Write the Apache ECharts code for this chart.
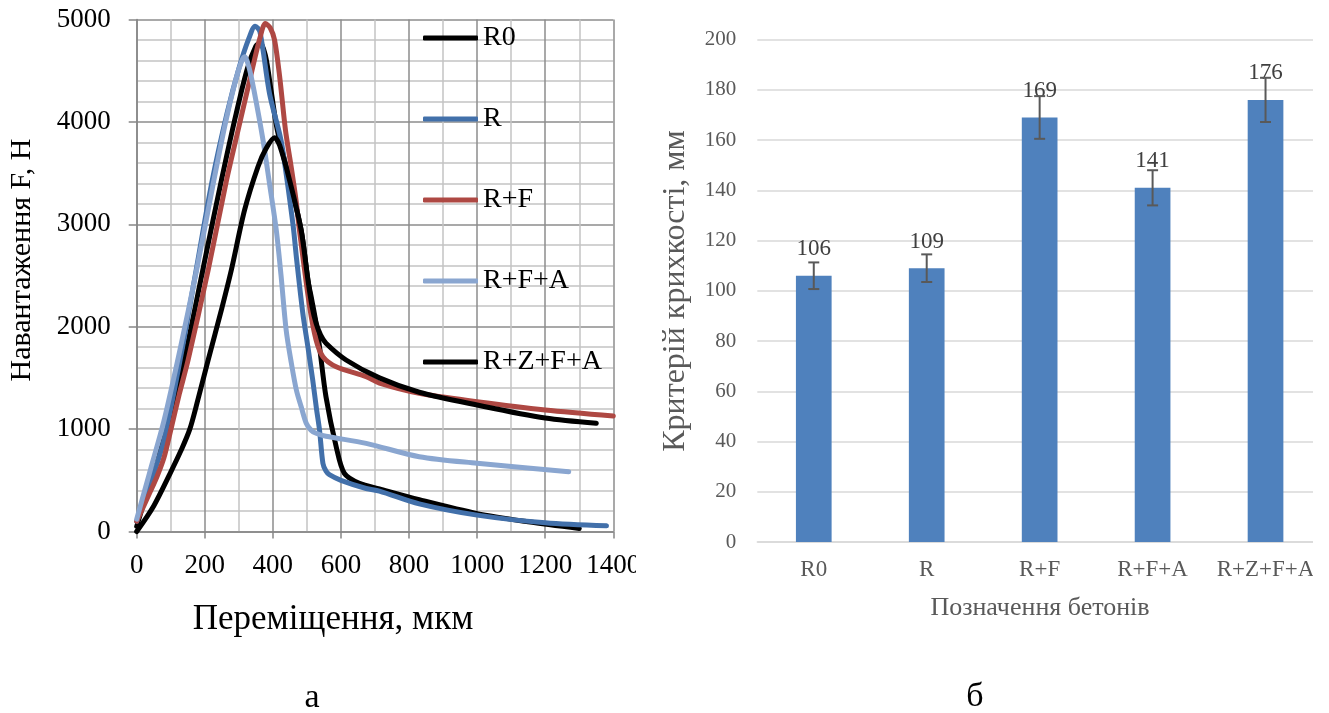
<!DOCTYPE html>
<html>
<head>
<meta charset="utf-8">
<script src="https://cdn.jsdelivr.net/npm/echarts@6/dist/echarts.min.js"></script>
<style>
  html, body { margin: 0; padding: 0; background: #fff; }
  #a { position: absolute; left: 0; top: 0; width: 636px; height: 713px; }
  #bwrap { position: absolute; left: 636px; top: 0; width: 677px; height: 713px; overflow: hidden; }
  #b { position: absolute; left: 0; top: 0; width: 700px; height: 713px; }
</style>
</head>
<body>
<div id="a"></div>
<div id="bwrap"><div id="b"></div></div>
<script>
// ---------- Chart (a): load–displacement curves ----------
const seriesNames = ['R0', 'R', 'R+F', 'R+F+A', 'R+Z+F+A'];
const seriesColors = ['#000000', '#4270aa', '#ae4843', '#8aa6d0', '#000000'];

const curveR0 = [[0,50],[50,600],[100,1120],[146,1772],[200,2650],[249,3432],[290,4050],[325,4520],[350,4740],[362,4770],[378,4650],[395,4300],[413,3920],[449,3432],[483,2944],[503,2456],[515,2250],[527,2033],[537,1805],[556,1316],[586,828],[610,568],[654,470],[713,415],[830,310],[1000,175],[1150,95],[1300,30]];
const curveR = [[0,100],[40,470],[80,890],[130,1720],[175,2560],[222,3430],[265,4080],[300,4520],[330,4820],[348,4935],[362,4880],[390,4280],[420,3880],[429,3725],[459,3000],[470,2650],[488,2130],[503,1800],[517,1480],[528,1200],[537,992],[547,666],[556,590],[566,555],[600,500],[674,420],[713,395],[830,270],[1000,160],[1200,85],[1380,55]];
const curveRF = [[0,100],[40,390],[60,540],[80,720],[100,990],[125,1340],[151,1675],[210,2554],[264,3432],[300,3950],[335,4450],[362,4820],[378,4960],[392,4920],[405,4800],[420,4440],[437,3920],[452,3600],[468,3237],[478,2944],[508,2195],[527,1870],[547,1707],[586,1609],[674,1512],[713,1450],[830,1350],[1000,1268],[1200,1187],[1400,1128]];
const curveRFA = [[0,120],[40,600],[80,1080],[127,1772],[176,2554],[222,3350],[260,3980],[290,4400],[308,4590],[317,4637],[330,4530],[345,4300],[371,3823],[390,3400],[410,2944],[424,2500],[439,1968],[454,1650],[469,1382],[483,1220],[498,1057],[512,990],[527,959],[556,930],[674,861],[830,730],[1000,666],[1269,584]];
const curveRZFA = [[0,0],[50,250],[100,580],[130,790],[156,1000],[180,1290],[210,1675],[250,2180],[278,2554],[317,3140],[356,3560],[380,3740],[405,3845],[420,3770],[449,3432],[483,2944],[503,2456],[515,2200],[527,2033],[540,1920],[556,1838],[615,1675],[713,1500],[830,1360],[1000,1235],[1200,1108],[1350,1057]];
const curves = [curveR0, curveR, curveRF, curveRFA, curveRZFA];

// ---------- Chart (b): brittleness criterion ----------
const categories = ['R0', 'R', 'R+F', 'R+F+A', 'R+Z+F+A'];
const barValues = [106, 109, 169, 141, 176];
const barErrors = [5.3, 5.5, 8.5, 7.0, 8.8];

const SERIF = "'Liberation Serif', 'Times New Roman', serif";
const plain = v => String(v);

const chartA = echarts.init(document.getElementById('a'), null, { renderer: 'canvas' });
chartA.setOption({
  animation: false,
  backgroundColor: '#fff',
  grid: { left: 136.7, right: 22.7, top: 19.5, bottom: 181.5, containLabel: false, outerBoundsMode: 'none' },
  legend: {
    orient: 'vertical',
    left: 418, top: 19,
    icon: 'roundRect',
    itemWidth: 55, itemHeight: 5, itemGap: 53,
    textStyle: { fontFamily: SERIF, fontSize: 28, color: '#000', lineHeight: 28 },
    data: seriesNames
  },
  xAxis: {
    type: 'value', min: 0, max: 1400, interval: 200,
    axisLine: { show: true, onZero: false, lineStyle: { color: '#868686', width: 1.5 } },
    axisTick: { show: true, length: 7, lineStyle: { color: '#868686', width: 1.5 } },
    axisLabel: { margin: 21, fontFamily: SERIF, fontSize: 27, color: '#000', hideOverlap: false, formatter: plain },
    splitLine: { show: true, lineStyle: { color: '#8c8c8c', width: 1.5 } },
    minorTick: { show: false, splitNumber: 2 },
    minorSplitLine: { show: true, lineStyle: { color: '#c4c4c4', width: 1.5 } }
  },
  yAxis: {
    type: 'value', min: 0, max: 5000, interval: 1000,
    axisLine: { show: true, onZero: false, lineStyle: { color: '#868686', width: 1.5 } },
    axisTick: { show: true, length: 8, lineStyle: { color: '#868686', width: 1.5 } },
    axisLabel: { margin: 26, fontFamily: SERIF, fontSize: 27, color: '#000', formatter: plain },
    splitLine: { show: true, lineStyle: { color: '#8c8c8c', width: 1.5 } },
    minorTick: { show: false, splitNumber: 5 },
    minorSplitLine: { show: true, lineStyle: { color: '#c4c4c4', width: 1.5 } }
  },
  series: seriesNames.map((name, i) => ({
    name: name,
    type: 'line',
    data: curves[i],
    showSymbol: false,
    symbol: 'none',
    smooth: 0.3,
    clip: false,
    lineStyle: { color: seriesColors[i], width: 5, cap: 'round', join: 'round' },
    itemStyle: { color: seriesColors[i] }
  })),
  graphic: [
    { type: 'text', x: 333, y: 620, style: { text: 'Переміщення, мкм', font: '35px ' + SERIF, fill: '#000', align: 'center', verticalAlign: 'middle', textAlign: 'center', textVerticalAlign: 'middle' } },
    { type: 'text', x: 22, y: 260, rotation: Math.PI / 2, style: { text: 'Навантаження F, Н', font: '30px ' + SERIF, fill: '#000', align: 'center', verticalAlign: 'middle', textAlign: 'center', textVerticalAlign: 'middle' } },
    { type: 'text', x: 312, y: 698, style: { text: 'а', font: '34px ' + SERIF, fill: '#000', align: 'center', verticalAlign: 'middle', textAlign: 'center', textVerticalAlign: 'middle' } }
  ]
});

const chartB = echarts.init(document.getElementById('b'), null, { renderer: 'canvas' });
chartB.setOption({
  animation: false,
  backgroundColor: '#fff',
  grid: { left: 121.3, right: 14, top: 39.6, bottom: 171, containLabel: false, outerBoundsMode: 'none' },
  xAxis: {
    type: 'category', data: categories,
    axisLine: { show: true, lineStyle: { color: '#d9d9d9', width: 1.5 } },
    axisTick: { show: false },
    axisLabel: { interval: 0, margin: 16, fontFamily: SERIF, fontSize: 23, color: '#595959' },
    splitLine: { show: false }
  },
  yAxis: {
    type: 'value', min: 0, max: 200, interval: 20,
    axisLine: { show: false }, axisTick: { show: false },
    axisLabel: { margin: 21, fontFamily: SERIF, fontSize: 21, color: '#595959' },
    splitLine: { show: true, lineStyle: { color: '#d9d9d9', width: 1.5 } }
  },
  series: [
    {
      type: 'bar', data: barValues, barWidth: '31.6%',
      itemStyle: { color: '#4f81bd' },
      label: { show: true, position: 'top', distance: 15, fontFamily: SERIF, fontSize: 23, color: '#404040' },
      z: 2
    },
    {
      type: 'custom',
      data: barValues.map((v, i) => [i, v, barErrors[i]]),
      encode: { x: 0, y: 1 },
      z: 3,
      renderItem: function (params, api) {
        const i = api.value(0), v = api.value(1), e = api.value(2);
        const t = api.coord([i, v + e]);
        const b = api.coord([i, v - e]);
        const h = 5.5;
        const st = { stroke: '#595959', lineWidth: 2 };
        return {
          type: 'group',
          children: [
            { type: 'line', shape: { x1: t[0], y1: t[1], x2: b[0], y2: b[1] }, style: st },
            { type: 'line', shape: { x1: t[0] - h, y1: t[1], x2: t[0] + h, y2: t[1] }, style: st },
            { type: 'line', shape: { x1: b[0] - h, y1: b[1], x2: b[0] + h, y2: b[1] }, style: st }
          ]
        };
      }
    }
  ],
  graphic: [
    { type: 'text', x: 40, y: 291, rotation: Math.PI / 2, style: { text: 'Критерій крихкості, мм', font: '32px ' + SERIF, fill: '#595959', align: 'center', verticalAlign: 'middle', textAlign: 'center', textVerticalAlign: 'middle' } },
    { type: 'text', x: 404, y: 608, style: { text: 'Позначення бетонів', font: '26px ' + SERIF, fill: '#595959', align: 'center', verticalAlign: 'middle', textAlign: 'center', textVerticalAlign: 'middle' } },
    { type: 'text', x: 339, y: 697, style: { text: 'б', font: '34px ' + SERIF, fill: '#000', align: 'center', verticalAlign: 'middle', textAlign: 'center', textVerticalAlign: 'middle' } }
  ]
});
</script>
</body>
</html>
